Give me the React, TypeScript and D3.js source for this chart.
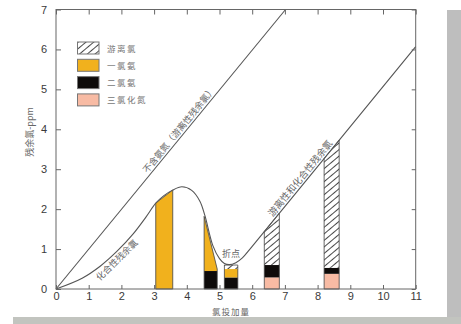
import { useRef, useEffect } from "react";
import * as d3 from "d3";

// 氯投加量 vs 残余氯 (折点加氯曲线)
const xTicks = [0, 1, 2, 3, 4, 5, 6, 7, 8, 9, 10, 11];
const yTicks = [0, 1, 2, 3, 4, 5, 6, 7];

// 不含氨氮时的直线
const freeLineX = [0, 7.02];
const freeLineY = [0, 7];

// 含氨氮时的残余氯曲线
const combinedX = [0, 0.8, 1.35, 1.86, 2.36, 2.75, 3.05, 3.3, 3.55, 3.85, 4.15, 4.4, 4.55, 4.8, 5.0, 5.15, 5.3, 5.5, 5.7, 6.0, 11];
const combinedY = [0, 0.27, 0.57, 0.94, 1.38, 1.8, 2.15, 2.34, 2.47, 2.56, 2.47, 2.2, 1.85, 1.08, 0.76, 0.64, 0.61, 0.66, 0.78, 1.07, 6.07];

// 柱（左右边界 + 各组分）
const barX0 = [3.05, 4.53, 5.15, 6.37, 8.2];
const barX1 = [3.57, 4.93, 5.56, 6.83, 8.66];
const barTopLeft = [2.15, 1.82, 0.6, 1.44, 3.27];
const barTopRight = [2.48, 0.5, 0.6, 1.9, 3.73];
const trichloride = [0, 0, 0, 0.29, 0.38];
const dichloramine = [0, 0.45, 0.29, 0.31, 0.15];
const monochloramine = [0, 0, 0.21, 0, 0];
const topLayer = ["mono", "mono", "free", "free", "free"];

const legendKeys = ["free", "mono", "di", "tri"];
const legendLabels = ["游离氯", "一氯氨", "二氯氨", "三氯化氮"];

const colors = { free: "url(#hatch)", mono: "#f1b11d", di: "#0e0b0a", tri: "#f8bba4" };

const cjk = "'Noto Sans CJK SC', sans-serif";

function drawChart(svgRef) {
  const width = 461, height = 324;
  const left = 56, right = 415.7, top = 9.5, bottom = 289;

  const x = d3.scaleLinear().domain([0, 11]).range([left, right]);
  const y = d3.scaleLinear().domain([0, 7]).range([bottom, top]);

  let svg = d3.select(svgRef.current);
  svg.selectAll("*").remove();
  svg.attr("viewBox", `0 0 ${width} ${height}`).attr("width", width).attr("height", height);

  // 阴影边
  svg.append("rect").attr("x", 447).attr("y", 10).attr("width", 14).attr("height", 314).attr("fill", "#bebebe");
  svg.append("rect").attr("x", 13).attr("y", 317).attr("width", 448).attr("height", 7).attr("fill", "#c2c4bf");

  const defs = svg.append("defs");
  const pat = defs.append("pattern")
    .attr("id", "hatch")
    .attr("patternUnits", "userSpaceOnUse")
    .attr("width", 6).attr("height", 5)
    .attr("patternTransform", "rotate(-40)");
  pat.append("rect").attr("width", 6).attr("height", 5).attr("fill", "#fff");
  pat.append("line").attr("x1", 0).attr("x2", 6).attr("y1", 2.5).attr("y2", 2.5)
    .attr("stroke", "#333").attr("stroke-width", 0.9);

  // 柱
  const bars = barX0.map((x0, i) => {
    const segs = [];
    let base = 0;
    [["tri", trichloride[i]], ["di", dichloramine[i]], ["mono", monochloramine[i]]].forEach(([k, v]) => {
      if (v > 0) { segs.push({ key: k, pts: [[x0, base], [barX1[i], base], [barX1[i], base + v], [x0, base + v]] }); base += v; }
    });
    segs.push({ key: topLayer[i], pts: [[x0, base], [barX1[i], base], [barX1[i], barTopRight[i]], [x0, barTopLeft[i]]] });
    return { segs, outline: [[x0, 0], [barX1[i], 0], [barX1[i], barTopRight[i]], [x0, barTopLeft[i]]] };
  });

  const poly = d3.line().x(d => x(d[0])).y(d => y(d[1]));

  const g = svg.append("g");
  bars.forEach(b => {
    b.segs.forEach(s => {
      g.append("path").attr("d", poly(s.pts) + "Z").attr("fill", colors[s.key]);
    });
    g.append("path").attr("d", poly(b.outline) + "Z")
      .attr("fill", "none").attr("stroke", "#444").attr("stroke-width", 0.8);
  });

  // 曲线
  const curve = d3.line().x(d => x(d[0])).y(d => y(d[1])).curve(d3.curveCatmullRom.alpha(0.5));
  svg.append("path")
    .attr("d", curve(combinedX.map((v, i) => [v, combinedY[i]])))
    .attr("fill", "none").attr("stroke", "#555").attr("stroke-width", 1.1);
  svg.append("path")
    .attr("d", poly(freeLineX.map((v, i) => [v, freeLineY[i]])))
    .attr("fill", "none").attr("stroke", "#555").attr("stroke-width", 1.1);

  // 坐标轴
  const axes = svg.append("g").attr("font-family", "'Liberation Sans', Arial, sans-serif");
  const fmt = d3.format("d");
  const ax = axes.append("g").attr("transform", `translate(0,${bottom})`)
    .call(d3.axisBottom(x).tickValues(xTicks).tickFormat(fmt).tickSizeInner(-4).tickSizeOuter(0).tickPadding(3));
  const ay = axes.append("g").attr("transform", `translate(${left},0)`)
    .call(d3.axisLeft(y).tickValues(yTicks).tickFormat(fmt).tickSizeInner(-5).tickSizeOuter(0).tickPadding(9));
  const at = axes.append("g").attr("transform", `translate(0,${top})`)
    .call(d3.axisTop(x).tickValues(xTicks).tickSizeInner(-5).tickSizeOuter(0).tickFormat(() => ""));
  const ar = axes.append("g").attr("transform", `translate(${right},0)`)
    .call(d3.axisRight(y).tickValues(yTicks).tickSizeInner(-4).tickSizeOuter(0).tickFormat(() => ""));
  [ax, ay, at, ar].forEach(a => {
    a.select(".domain").remove();
    a.selectAll("line").attr("stroke", "#666");
    a.selectAll("text").attr("font-size", 11).attr("fill", "#3a3a3a");
  });
  svg.append("rect").attr("x", left).attr("y", top).attr("width", right - left).attr("height", bottom - top)
    .attr("fill", "none").attr("stroke", "#666").attr("stroke-width", 1);

  // 轴标题
  svg.append("text").attr("x", 231).attr("y", 315).attr("text-anchor", "middle")
    .attr("font-family", cjk).attr("font-size", 8.5).attr("letter-spacing", 1).attr("fill", "#666").text("氯投加量");
  svg.append("text").attr("transform", "translate(33,132) rotate(-90)").attr("text-anchor", "middle")
    .attr("font-family", cjk).attr("font-size", 9).attr("fill", "#666").text("残余氯-ppm");

  // 图例
  const lg = svg.append("g");
  legendKeys.forEach((k, i) => {
    const yy = 42 + i * 17.3;
    lg.append("rect").attr("x", 77.5).attr("y", yy).attr("width", 21.5).attr("height", 12)
      .attr("fill", colors[k]).attr("stroke", "#777").attr("stroke-width", 1);
    lg.append("text").attr("x", 107).attr("y", yy + 9.5)
      .attr("font-family", cjk).attr("font-size", 8.5).attr("letter-spacing", 1.5).attr("fill", "#777").text(legendLabels[i]);
  });

  // 线上标注
  const ang1 = Math.atan2(y(0) - y(1), x(1) - x(0)) * 180 / Math.PI;
  svg.append("text")
    .attr("transform", `translate(${x(2.85)},${y(2.85)}) rotate(${-ang1})`)
    .attr("y", -2.5)
    .attr("font-family", cjk).attr("font-size", 9).attr("fill", "#666").text("不含氨氮（游离性残余氯）");
  svg.append("text")
    .attr("transform", `translate(${x(6.69)},${y(6.07 - 11 + 6.69)}) rotate(${-ang1})`)
    .attr("y", -2.5)
    .attr("font-family", cjk).attr("font-size", 9.5).attr("fill", "#666").text("游离性和化合性残余氯");
  svg.append("text")
    .attr("transform", `translate(${x(1.75)},${y(0.82)}) rotate(-44)`)
    .attr("y", 8.5).attr("text-anchor", "middle")
    .attr("font-family", cjk).attr("font-size", 9).attr("fill", "#666").text("化合性残余氯");
  svg.append("text").attr("x", 231).attr("y", 256.5).attr("text-anchor", "middle")
    .attr("font-family", cjk).attr("font-size", 9).attr("fill", "#666").text("折点");
}

export default function App() {
  const svg = useRef(null);
  useEffect(() => {
    drawChart(svg);
  }, [svg]);

  return <svg ref={svg} style={{ position: "absolute", left: 0, top: 0 }} />;
}
